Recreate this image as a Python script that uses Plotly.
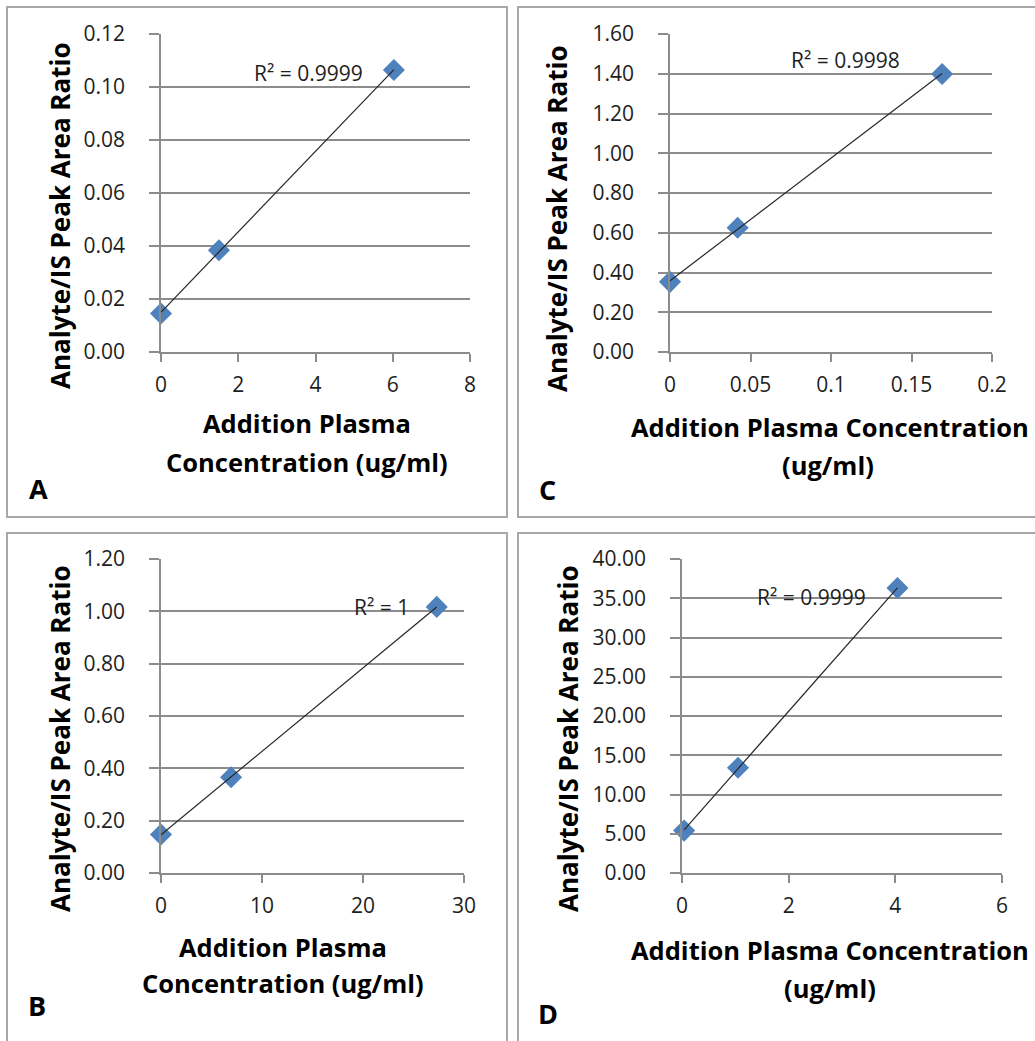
import numpy as np
import plotly.graph_objects as go

# ---- data ----
a_x = [0.0, 1.5, 6.03]
a_y = [0.0145, 0.0384, 0.1064]
b_x = [0.0, 6.94, 27.3]
b_y = [0.147, 0.366, 1.017]
c_x = [0.0, 0.042, 0.169]
c_y = [0.353, 0.625, 1.399]
d_x = [0.04, 1.05, 4.04]
d_y = [5.4, 13.4, 36.3]

r2_labels = ["R² = 0.9999", "R² = 1", "R² = 0.9998", "R² = 0.9999"]
panel_letters = ["A", "B", "C", "D"]
y_title = "Analyte/IS Peak Area Ratio"

W, H = 1035, 1041
FONT = "Open Sans"
GRID = "#8c8c8c"
BORDER = "#a8a8a8"
MARK = "#4F81BD"
TXT = "#1e1e1e"


def px(x):
    return x / W


def py(y):
    return 1 - y / H


fig = go.Figure()

panels = [
    # name, xs, ys, x-range, dtick x, y-range, dtick y, x-domain px, y-domain px
    ("A", a_x, a_y, [0, 8], 2, [0, 0.12], 0.02, (161, 470), (34, 352)),
    ("B", b_x, b_y, [0, 30], 10, [0, 1.2], 0.2, (161, 464), (559, 873)),
    ("C", c_x, c_y, [0, 0.2], 0.05, [0, 1.6], 0.2, (670, 992), (34, 352)),
    ("D", d_x, d_y, [0, 6], 2, [0, 40], 5, (682, 1002), (559, 873)),
]

layout_axes = {}
for i, (name, xs, ys, xr, dx, yr, dy, xd, yd) in enumerate(panels):
    n = "" if i == 0 else str(i + 1)
    xa, ya = "x" + n, "y" + n
    fig.add_trace(go.Scatter(x=xs, y=ys, mode="markers", xaxis=xa, yaxis=ya,
                             marker=dict(symbol="diamond", size=17, color=MARK),
                             cliponaxis=False, showlegend=False))
    # linear trendline (least-squares fit of the data), drawn above the markers
    k, b = np.polyfit(xs, ys, 1)
    tx = [min(xs), max(xs)]
    fig.add_trace(go.Scatter(x=tx, y=[k * t + b for t in tx], mode="lines",
                             xaxis=xa, yaxis=ya, line=dict(color="#262626", width=1.2),
                             cliponaxis=False, showlegend=False))
    layout_axes["xaxis" + n] = dict(
        domain=[px(xd[0]), px(xd[1])], range=xr, dtick=dx, anchor=ya, automargin=False,
        showgrid=False, zeroline=False, showline=True, linecolor=GRID, linewidth=1.5,
        ticks="outside", ticklen=8, tickcolor=GRID, tickwidth=1.5,
        ticklabelstandoff=5,
        tickfont=dict(family=FONT, size=21, color=TXT), fixedrange=True)
    layout_axes["yaxis" + n] = dict(
        domain=[py(yd[1]), py(yd[0])], range=yr, dtick=dy, anchor=xa, automargin=False,
        tickformat=".2f", showgrid=True, gridcolor=GRID, gridwidth=1.5,
        zeroline=False, showline=True, linecolor=GRID, linewidth=1.5,
        ticks="outside", ticklen=10, tickcolor=GRID, tickwidth=1.5,
        ticklabelstandoff=20,
        tickfont=dict(family=FONT, size=21, color=TXT), fixedrange=True)

fig.update_layout(**layout_axes)

ann = []
# y-axis titles (x center, y center)
for (xc, yc) in [(60, 216), (60, 739), (557, 219), (568, 739)]:
    ann.append(dict(x=px(xc), y=py(yc), xref="paper", yref="paper", text="<b>" + y_title + "</b>",
                    textangle=-90, showarrow=False, xanchor="center", yanchor="middle",
                    font=dict(family=FONT, size=26, color="black")))
# x-axis titles
xtitles = [
    (307, 423, "Addition Plasma"), (307, 462, "Concentration (ug/ml)"),
    (283, 947, "Addition Plasma"), (283, 983, "Concentration (ug/ml)"),
    (830, 427, "Addition Plasma Concentration"), (828, 465, "(ug/ml)"),
    (830, 950, "Addition Plasma Concentration"), (830, 988, "(ug/ml)"),
]
for xc, yc, t in xtitles:
    ann.append(dict(x=px(xc), y=py(yc), xref="paper", yref="paper", text="<b>" + t + "</b>",
                    showarrow=False, xanchor="center", yanchor="middle",
                    font=dict(family=FONT, size=25.5, color="black")))
# panel letters
for (xc, yc), t in zip([(38, 488), (37, 1005), (547, 490), (548, 1013)], panel_letters):
    ann.append(dict(x=px(xc), y=py(yc), xref="paper", yref="paper", text="<b>" + t + "</b>",
                    showarrow=False, xanchor="center", yanchor="middle",
                    font=dict(family=FONT, size=27, color="black")))
# R² labels
for (xc, yc), t in zip([(308, 73), (381, 607), (845, 60), (811, 597)], r2_labels):
    ann.append(dict(x=px(xc), y=py(yc), xref="paper", yref="paper", text=t,
                    showarrow=False, xanchor="center", yanchor="middle",
                    font=dict(family=FONT, size=21, color=TXT)))

shapes = []
for (x0, y0, x1, y1) in [(7, 7, 507, 517), (518, 7, 1045, 517), (7, 533, 507, 1050), (518, 533, 1045, 1050)]:
    shapes.append(dict(type="rect", xref="paper", yref="paper",
                       x0=px(x0), x1=px(x1), y0=py(y1), y1=py(y0),
                       line=dict(color=BORDER, width=2), fillcolor="rgba(0,0,0,0)", layer="below"))

fig.update_layout(width=W, height=H, margin=dict(l=0, r=0, t=0, b=0),
                  paper_bgcolor="white", plot_bgcolor="white",
                  annotations=ann, shapes=shapes, showlegend=False)

fig.write_html("out.html", config={"displayModeBar": False})
